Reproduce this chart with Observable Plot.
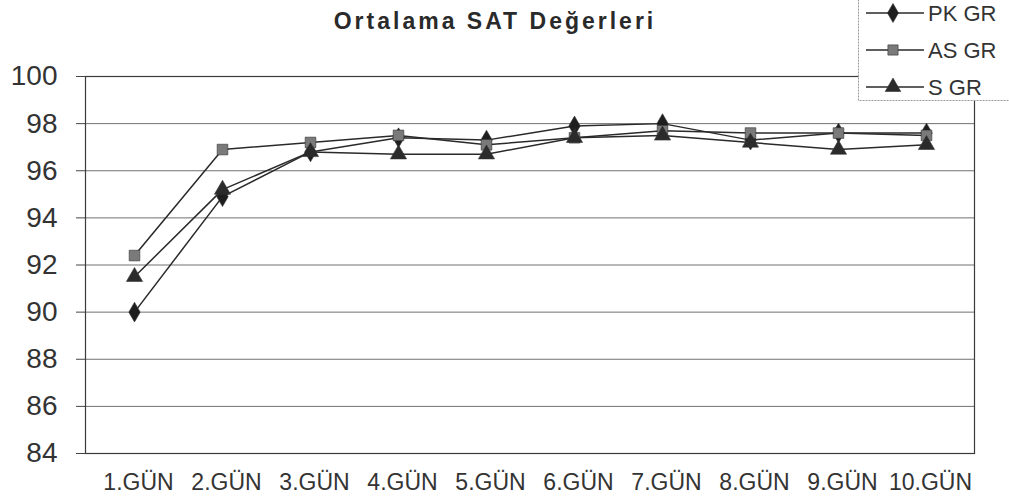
<!DOCTYPE html>
<html>
<head>
<meta charset="utf-8">
<script src="https://cdn.jsdelivr.net/npm/d3@7"></script>
<script src="https://cdn.jsdelivr.net/npm/@observablehq/plot@0.6"></script>
<style>
  html, body { margin: 0; padding: 0; background: #fff; }
  #wrap { position: relative; width: 1009px; height: 499px; overflow: hidden; font-family: "Liberation Sans", Arial, sans-serif; }
  #title { position: absolute; left: 0; width: 990px; top: 8px; text-align: center; font-weight: bold; font-size: 23px; letter-spacing: 3px; color: #2a2a2a; }
  #legend { position: absolute; left: 858px; top: -4px; }
</style>
</head>
<body>
<div id="wrap">
  <div id="chart"></div>
  <div id="title">Ortalama SAT Değerleri</div>
  <svg id="legend" width="151" height="115"></svg>
</div>
<script>
const days = ["1.GÜN","2.GÜN","3.GÜN","4.GÜN","5.GÜN","6.GÜN","7.GÜN","8.GÜN","9.GÜN","10.GÜN"];
const seriesNames = ["PK GR","AS GR","S GR"];
const pkGR = [90.0, 94.9, 96.8, 97.4, 97.3, 97.9, 98.0, 97.3, 97.6, 97.6];
const asGR = [92.4, 96.9, 97.2, 97.5, 97.1, 97.4, 97.7, 97.6, 97.6, 97.5];
const sGR  = [91.5, 95.2, 96.8, 96.7, 96.7, 97.4, 97.5, 97.2, 96.9, 97.1];
const yTicks = [84, 86, 88, 90, 92, 94, 96, 98, 100];

const symbols = ["diamond", "square", "triangle"];
const fills = ["#1e1e1e", "#7a7a7a", "#2b2b2b"];
const valuesBySeries = [pkGR, asGR, sGR];

const data = [];
seriesNames.forEach((s, i) => days.forEach((d, j) => data.push({series: s, day: d, value: valuesBySeries[i][j]})));

const chart = Plot.plot({
  width: 1009,
  height: 499,
  marginLeft: 85,
  marginRight: 35,
  marginTop: 76,
  marginBottom: 46,
  style: {fontFamily: "'Liberation Sans', Arial, sans-serif", color: "#333", background: "#fff"},
  x: {type: "point", domain: days, padding: 0.5, label: null},
  y: {domain: [84, 100], label: null},
  marks: [
    Plot.gridY(yTicks, {stroke: "#707070", strokeOpacity: 1, strokeWidth: 1}),
    Plot.frame({stroke: "#3a3a3a", strokeWidth: 1.2}),
    Plot.axisY(yTicks, {tickSize: 9, tickPadding: 19, fontSize: 28, stroke: "#444", fill: "#333"}),
    Plot.axisX({tickSize: 0, tickPadding: 20, fontSize: 23, fill: "#333", dx: 4}),
    Plot.line(data, {x: "day", y: "value", z: "series", stroke: "#2a2a2a", strokeWidth: 1.5}),
    ...seriesNames.map((s, i) =>
      Plot.dot(data.filter(d => d.series === s), {x: "day", y: "value", symbol: () => symbols[i], r: 6, fill: fills[i], stroke: "#333", strokeWidth: 0.6})
    )
  ]
});
document.getElementById("chart").appendChild(chart);

// legend
const lg = d3.select("#legend");
lg.append("rect").attr("x", 0.5).attr("y", 0.5).attr("width", 200).attr("height", 104)
  .attr("fill", "#fff").attr("stroke", "#999").attr("stroke-dasharray", "2,1");
const symMap = {diamond: d3.symbolDiamond, square: d3.symbolSquare, triangle: d3.symbolTriangle};
seriesNames.forEach((s, i) => {
  const y = 17 + i * 37;
  const g = lg.append("g").attr("transform", `translate(0,${y})`);
  g.append("line").attr("x1", 8).attr("x2", 66).attr("y1", 0).attr("y2", 0).attr("stroke", "#2a2a2a").attr("stroke-width", 1.5);
  g.append("path").attr("transform", "translate(35,0)").attr("d", d3.symbol(symMap[symbols[i]], 105)())
    .attr("fill", fills[i]).attr("stroke", "#333").attr("stroke-width", 0.6);
  g.append("text").attr("x", 70).attr("y", 0).attr("dy", "0.36em").attr("font-size", 22).attr("fill", "#333")
    .attr("font-family", "'Liberation Sans', Arial, sans-serif").text(s);
});
</script>
</body>
</html>
